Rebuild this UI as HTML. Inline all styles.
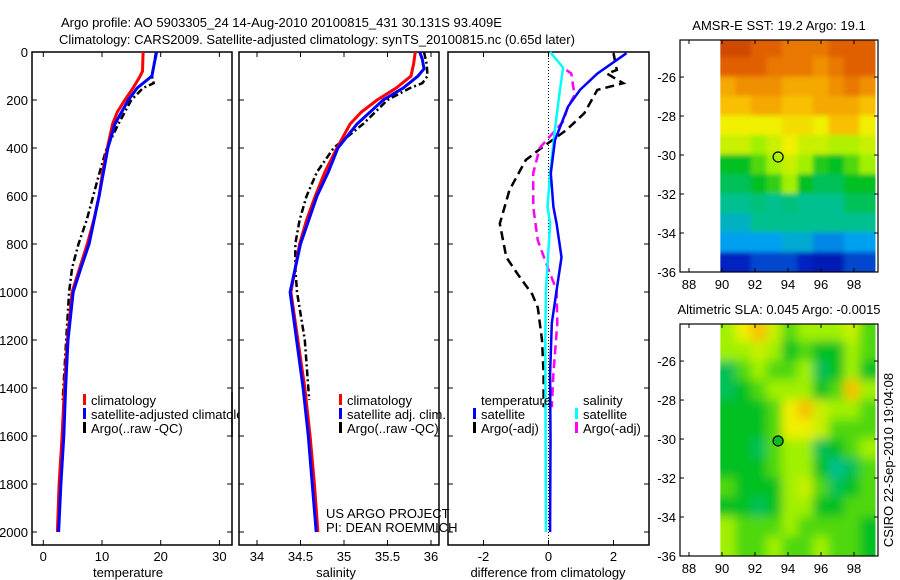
<!DOCTYPE html>
<html><head><meta charset="utf-8"><style>
body{margin:0;background:#fff}
svg{display:block;font-family:"Liberation Sans",sans-serif;font-size:13px}
</style></head><body>
<svg id="fig" width="900" height="580" viewBox="0 0 900 580">
<text x="61" y="27">Argo profile: AO 5903305_24 14-Aug-2010 20100815_431 30.131S 93.409E</text>
<text x="59" y="44">Climatology: CARS2009. Satellite-adjusted climatology: synTS_20100815.nc (0.65d later)</text>
<text transform="translate(893,460) rotate(-90)" text-anchor="middle">CSIRO 22-Sep-2010 19:04:08</text>
<g id="layer"></g>
</svg>
<script>
// ---------- data ----------
const depthTicks=[0,200,400,600,800,1000,1200,1400,1600,1800,2000];
const tTicks=[0,10,20,30];
const sTicks=[34,34.5,35,35.5,36];
const sTickLabels=["34","34.5","35","35.5","36"];
const dTicks=[-2,0,2];
const tempClimDepth=[0,80,100,150,200,250,300,400,500,600,700,800,900,1000,1200,1400,1600,1800,2000];
const tempClim=[17.0,16.9,16.5,15.3,13.9,12.6,11.8,10.9,10.1,9.5,8.6,7.5,6.2,4.9,4.1,3.6,3.2,2.7,2.4];
const tempSatDepth=[0,50,100,150,200,300,400,600,800,900,1000,1200,1400,1600,1800,2000];
const tempSat=[19.3,18.9,18.5,16.0,14.5,12.2,11.0,9.5,7.8,6.4,5.1,4.2,3.8,3.5,3.0,2.6];
const tempArgoDepth=[0,100,130,150,200,300,400,500,600,700,800,900,1000,1200,1450];
const tempArgo=[19.2,18.5,18.8,17.0,15.0,12.8,10.8,9.6,8.5,7.4,6.0,4.9,4.4,3.9,3.3];
const salClimDepth=[0,50,100,150,200,250,300,400,500,600,700,800,900,1000,1400,1600,1800,2000];
const salClim=[35.82,35.8,35.77,35.6,35.38,35.2,35.07,34.92,34.78,34.67,34.57,34.49,34.44,34.39,34.55,34.61,34.66,34.7];
const salSatDepth=[0,30,70,100,150,200,300,400,500,600,800,1000,1400,1600,2000];
const salSat=[35.87,35.9,35.92,35.85,35.68,35.45,35.15,34.93,34.82,34.69,34.5,34.38,34.53,34.59,34.68];
const salArgoDepth=[0,50,100,130,150,200,300,400,500,600,700,800,900,1000,1200,1450];
const salArgo=[35.92,35.95,35.96,35.9,35.76,35.5,35.22,34.88,34.69,34.57,34.49,34.44,34.44,34.46,34.55,34.6];
const dTempSatDepth=[5,90,158,228,367,505,645,715,855,993,1130,1340,1617,1962,2000];
const dTempSat=[2.4,1.5,0.97,0.6,0.2,0.07,0.15,0.25,0.4,0.25,0.1,0.05,0.06,0.05,0.05];
const dSalSatDepth=[0,65,160,320,505,645,715,993,1200,1617,2000];
const dSalSat=[0.05,0.45,0.35,0.2,0.05,-0.03,0.05,-0.08,-0.1,-0.09,-0.08];
const dSalArgoDepth=[75,90,180,228,290,400,505,645,785,895,993,1130,1340,1480];
const dSalArgo=[0.55,0.7,0.8,0.6,0.45,-0.27,-0.47,-0.47,-0.33,-0.03,0.25,0.27,0.15,0.1];
const dTempArgoDepth=[5,75,90,130,158,255,325,395,450,575,715,855,925,1010,1065,1200,1340,1480];
const dTempArgo=[2.0,2.1,1.8,2.3,1.5,1.1,0.55,-0.17,-0.7,-1.2,-1.5,-1.3,-0.95,-0.5,-0.33,-0.2,-0.15,-0.15];
const lonTicks=[88,90,92,94,96,98];
const latTicks=[-26,-28,-30,-32,-34,-36];
const sstGrid=[
[9,9,8.5,8.5,8,8,8,8.5,8.5,8.5],
[8.5,8.5,8.5,8,8,8,7.5,8,8.5,8.5],
[7,7.5,7.5,7.5,7,7,7,7.5,8,7.5],
[6.5,6.5,7,7,6.5,6.5,7,7,7,6.5],
[6,6,6,6,6.2,6.2,6,6.5,6.5,6],
[5.5,5.5,5,5.5,6,5.5,5.5,5.2,5.2,5.5],
[4,4,4.5,5,5.5,5,4.2,4,4.5,5],
[3.5,3.5,4,4.3,5,4,3.5,3.5,4,4],
[3,3,3.2,3,3.2,3,3,3,3.5,3.5],
[2.5,2.5,3,3,3,3,3,3,3,3],
[2,2,2,2,2.3,2.3,1.8,1.8,2,2],
[1,1,1.3,1.3,1.3,1,0.8,0.8,1.3,1.3]];
const slaGrid=[
[5,6,6.5,5.5,4.5,5,5,5,5.5,4.5],
[5,5,5.5,5,4,4.5,4,4,5,4.5],
[3.5,4.5,5,4.5,4.5,5,3.5,4,5,4],
[3.5,4,4.5,5,5,5,4,4.5,6.5,5],
[4,4,4,4.5,6,6.5,5.5,5,5,4.5],
[4,4,4,4.5,6,6,5.5,4.5,4.5,4.5],
[4,4,3.5,4.5,5,5,3.5,4,4.5,5],
[4,4,4,4.5,5,5,4,3,3.5,4.5],
[4.5,4,4,4,5,5.5,4.5,3.5,4,4.5],
[4,4,3.5,4,5,5,4,4,4.5,4.5],
[5,4.5,4.5,4.5,5,4.5,4.5,4.5,4.5,4],
[5,4.5,4.5,5,4.5,4.5,5,4.5,4.5,4]];
const argoLon=93.4, argoLat=-30.1;

// ---------- helpers ----------
const NS="http://www.w3.org/2000/svg";
const layer=document.getElementById('layer');
function mk(tag,attrs,parent){const e=document.createElementNS(NS,tag);for(const k in attrs)e.setAttribute(k,attrs[k]);(parent||layer).appendChild(e);return e;}
const yD=d=>52+d*0.24;
function line(xs,ds,fx,color,w,dash,name){
  const pts=xs.map((v,i)=>fx(v).toFixed(1)+","+yD(ds[i]).toFixed(1)).join(" ");
  const p=mk('polyline',{points:pts,fill:'none',stroke:color,'stroke-width':w,'stroke-dasharray':dash||'none'});
  
  
}
function txt(x,y,s,anchor,name,parent){const t=mk('text',{x:x,y:y,'text-anchor':anchor||'start'},parent);t.textContent=s;
  
  return t;}
function panel(x0,x1,name){
  const r=mk('rect',{x:x0,y:52,width:x1-x0,height:493,fill:'none',stroke:'#000','stroke-width':1.5});
  
  
  depthTicks.forEach(d=>{const y=yD(d);mk('line',{x1:x0,x2:x0+5,y1:y,y2:y,stroke:'#000'});mk('line',{x1:x1,x2:x1-5,y1:y,y2:y,stroke:'#000'});});
}
const defs=mk('defs',{});
const lc=mk('clipPath',{id:'leg1clip'},defs);mk('rect',{x:0,y:380,width:239,height:70},lc);
// panel 1
const fT=t=>43.3+t*5.87;
panel(32,232,'temperature-panel');
depthTicks.forEach(d=>txt(28,yD(d)+5,String(d),'end','depth-tick-label'));
tTicks.forEach(t=>{const x=fT(t);mk('line',{x1:x,x2:x,y1:545,y2:540,stroke:'#000'});mk('line',{x1:x,x2:x,y1:52,y2:57,stroke:'#000'});txt(x,561,String(t),'middle','temperature-tick-label');});
txt(128,577,'temperature','middle','temperature-axis-title');
line(tempArgo,tempArgoDepth,fT,'#000',2.5,'7,3,2,3','temp-argo-line');
line(tempClim,tempClimDepth,fT,'#f00',3,null,'temp-climatology-line');
line(tempSat,tempSatDepth,fT,'#00f',3,null,'temp-satellite-line');
// panel 2
const fS=s=>257+(s-34)*87;
panel(239,439,'salinity-panel');
sTicks.forEach((s,i)=>{const x=fS(s);mk('line',{x1:x,x2:x,y1:545,y2:540,stroke:'#000'});mk('line',{x1:x,x2:x,y1:52,y2:57,stroke:'#000'});txt(x,561,sTickLabels[i],'middle','salinity-tick-label');});
txt(336,577,'salinity','middle','salinity-axis-title');
line(salArgo,salArgoDepth,fS,'#000',2.5,'7,3,2,3','sal-argo-line');
line(salClim,salClimDepth,fS,'#f00',3,null,'sal-climatology-line');
line(salSat,salSatDepth,fS,'#00f',3,null,'sal-satellite-line');
// panel 3
const fD=d=>548.5+d*32.5;
panel(448,649,'difference-panel');
dTicks.forEach(d=>{const x=fD(d);mk('line',{x1:x,x2:x,y1:545,y2:540,stroke:'#000'});mk('line',{x1:x,x2:x,y1:52,y2:57,stroke:'#000'});txt(x,561,String(d),'middle','difference-tick-label');});
mk('line',{x1:fD(0),x2:fD(0),y1:52,y2:545,stroke:'#000','stroke-dasharray':'1,2'});
txt(548,577,'difference from climatology','middle','difference-axis-title');
line(dTempArgo,dTempArgoDepth,fD,'#000',2.5,'9,5','dtemp-argo-line');
line(dSalArgo,dSalArgoDepth,fD,'#f0f',2.5,'9,5','dsal-argo-line');
line(dSalSat,dSalSatDepth,fD,'#0ff',2.5,null,'dsal-satellite-line');
line(dTempSat,dTempSatDepth,fD,'#00f',2.5,null,'dtemp-satellite-line');
// legends
function leg(x,y,c,s,name,parent){mk('rect',{x:x,y:y-11,width:3,height:11,fill:c},parent);txt(x+8,y,s,'start',name,parent);}
const l1=mk('g',{'clip-path':'url(#leg1clip)'});
leg(83,405,'#f00','climatology','legend-climatology',l1);
leg(83,419,'#00f','satellite-adjusted climatology','legend-satellite-adjusted',l1);
leg(83,433,'#000','Argo(..raw -QC)','legend-argo',l1);
mk('line',{x1:232,x2:232,y1:392,y2:437,stroke:'#000','stroke-width':1.5});
leg(339,405,'#f00','climatology','legend2-climatology');
leg(339,419,'#00f','satellite adj. clim.','legend2-satellite');
leg(339,433,'#000','Argo(..raw -QC)','legend2-argo');
txt(481,405,'temperature','start','legend3-temperature-header');
txt(583,405,'salinity','start','legend3-salinity-header');
leg(473,419,'#00f','satellite','legend3-temp-satellite');
leg(473,433,'#000','Argo(-adj)','legend3-temp-argo');
leg(575,419,'#0ff','satellite','legend3-sal-satellite');
leg(575,433,'#f0f','Argo(-adj)','legend3-sal-argo');
txt(326,518,'US ARGO PROJECT','start','us-argo-project-label');
txt(326,532,'PI: DEAN ROEMMICH','start','pi-label');

// maps
const stops=[[0,[0,0,138]],[1,[0,32,192]],[2,[0,160,240]],[3,[0,192,144]],[4,[0,192,32]],[5,[160,240,0]],[6,[240,240,0]],[6.5,[248,192,0]],[7.5,[240,144,0]],[8.5,[224,96,0]],[9.5,[192,48,0]]];
function cmap(v){for(let i=1;i<stops.length;i++){if(v<=stops[i][0]){const a=stops[i-1],b=stops[i],f=(v-a[0])/(b[0]-a[0]);return 'rgb('+a[1].map((c,k)=>Math.round(c+(b[1][k]-c)*f)).join(',')+')';}}return 'rgb(192,48,0)';}
function map(top,grid,title,name,blur){
  const fLon=l=>689+(l-88)*16.5, fLat=l=>top+(-24.1-l)*(232/11.9);
  const bottom=top+232;
  txt(779,top-10,title,'middle',name+'-title');
  const cid=name+'-clip';
  const cp=mk('clipPath',{id:cid},defs);mk('rect',{x:fLon(89.9),y:top,width:fLon(99.3)-fLon(89.9),height:232},cp);
  const f=mk('filter',{id:name+'-blur',x:'-10%',y:'-10%',width:'120%',height:'120%'},defs);
  mk('feGaussianBlur',{stdDeviation:blur,edgeMode:'duplicate'},f);
  const outer=mk('g',{'clip-path':'url(#'+cid+')'});
  const g=mk('g',{filter:'url(#'+name+'-blur)'},outer);
  
  
  const nc=grid[0].length,nr=grid.length,lw=(99.3-89.9)/nc;
  grid.forEach((row,r)=>row.forEach((v,c)=>{
    const x0=c===0?fLon(89.9)-10:fLon(89.9+c*lw),x1=c===nc-1?fLon(99.3)+10:fLon(89.9+(c+1)*lw);
    const y0=r===0?top-10:fLat(-24-r),y1=r===nr-1?bottom+10:fLat(-25-r);
    const cell=mk('rect',{x:x0-0.5,y:y0-0.5,width:x1-x0+1,height:y1-y0+1,fill:cmap(v)},g);
    
    
  }));
  const fr=mk('rect',{x:680,y:top,width:198,height:232,fill:'none',stroke:'#000','stroke-width':1.2});
  
  
  lonTicks.forEach(l=>{const x=fLon(l);mk('line',{x1:x,x2:x,y1:bottom,y2:bottom-4,stroke:'#000'});mk('line',{x1:x,x2:x,y1:top,y2:top+4,stroke:'#000'});txt(x,bottom+17,String(l),'middle',name+'-lon-label');});
  latTicks.forEach(l=>{const y=fLat(l);mk('line',{x1:680,x2:684,y1:y,y2:y,stroke:'#000'});mk('line',{x1:878,x2:874,y1:y,y2:y,stroke:'#000'});txt(676,y+5,String(l),'end',name+'-lat-label');});
  const c=mk('circle',{cx:fLon(argoLon),cy:fLat(argoLat),r:5,fill:name==='sla-map'?'#00c020':'none',stroke:'#000','stroke-width':1.2});
  
  
}
map(40,sstGrid,'AMSR-E SST: 19.2 Argo: 19.1','sst-map',2.5);
map(324,slaGrid,'Altimetric SLA: 0.045 Argo: -0.0015','sla-map',5);
</script>
</body></html>
